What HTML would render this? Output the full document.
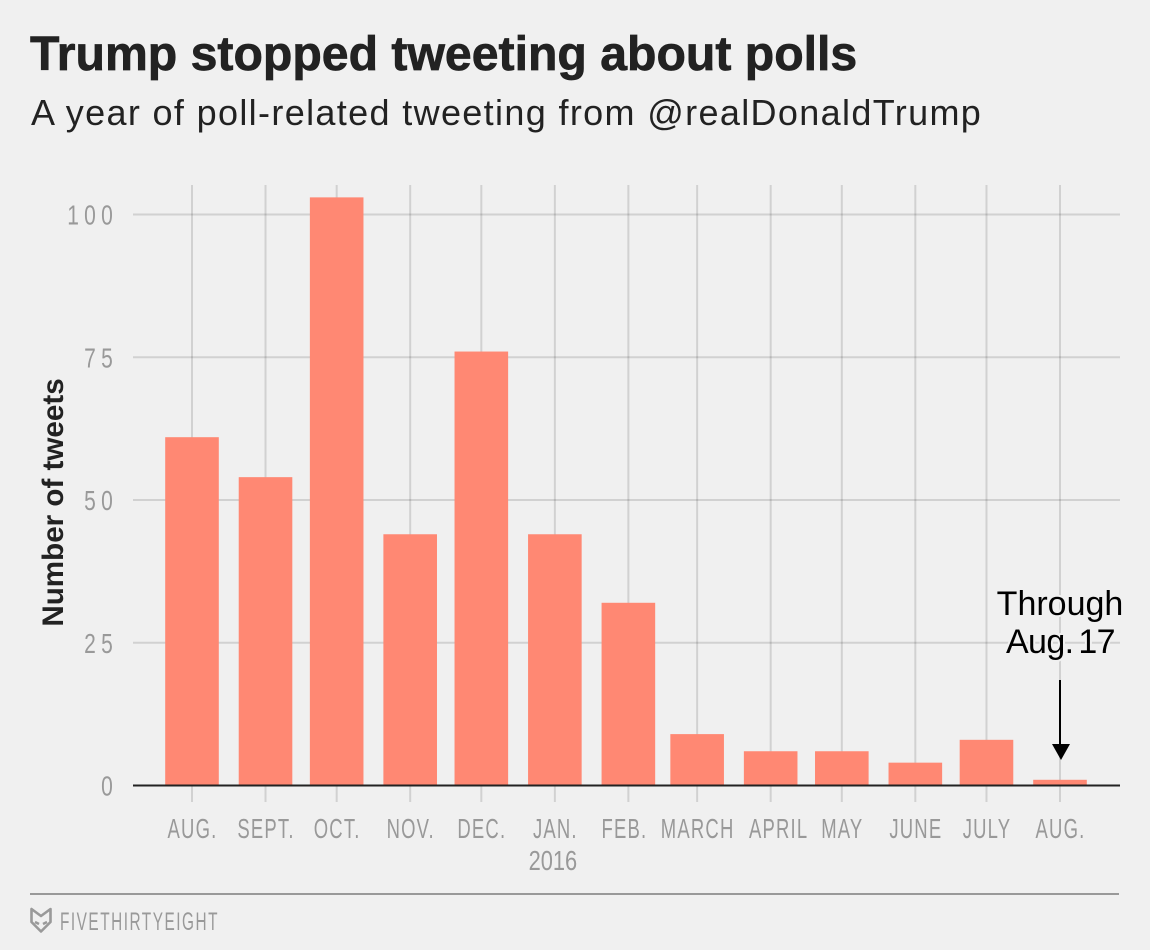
<!DOCTYPE html>
<html lang="en">
<head>
<meta charset="utf-8">
<title>Trump stopped tweeting about polls</title>
<style>
html,body{margin:0;padding:0;background:#f0f0f0;}
svg{display:block;font-family:"Liberation Sans",sans-serif;}
</style>
</head>
<body>
<svg id="chart" width="1150" height="950" viewBox="0 0 1150 950" xmlns="http://www.w3.org/2000/svg">
  <rect x="0" y="0" width="1150" height="950" fill="#f0f0f0"/>
  <text x="30" y="70" font-size="48.2" font-weight="700" fill="#222" stroke="#222" stroke-width="0.7">Trump stopped tweeting about polls</text>
  <text x="31" y="125" font-size="36" letter-spacing="1.35" fill="#222">A year of poll-related tweeting from @realDonaldTrump</text>
  <g id="grid"></g>
  <g id="bars"></g>
  <g id="axes"></g>
  <text transform="translate(63,502.5) rotate(-90)" text-anchor="middle" font-size="29.6" font-weight="700" fill="#222">Number of tweets</text>
  <g>
    <g font-size="34" fill="#000" stroke="#f0f0f0" stroke-width="4" paint-order="stroke" text-anchor="middle">
      <text x="1060" y="615">Through</text>
      <text x="1060.5" y="653" word-spacing="-4" letter-spacing="-0.6">Aug. 17</text>
    </g>
    <line x1="1060" y1="680" x2="1060" y2="746" stroke="#000" stroke-width="2"/>
    <polygon points="1052,744 1070,744 1061,760" fill="#000"/>
  </g>
  <line x1="30" y1="894" x2="1119" y2="894" stroke="#999" stroke-width="2"/>
  <g fill="none" stroke="#999" stroke-width="2.6" stroke-linejoin="round">
    <path d="M31.5,909 L31.5,922 L41,931.5 L50.5,922 L50.5,909 L41,916 Z"/>
    <path d="M35,922 L39,924 M47,922 L43,924"/>
  </g>
  <text transform="translate(60,930) scale(0.615,1)" font-size="25" letter-spacing="2.45" fill="#999">FIVETHIRTYEIGHT</text>
</svg>
<script>
const monthStarts = ["2015-08-01","2015-09-01","2015-10-01","2015-11-01","2015-12-01","2016-01-01","2016-02-01","2016-03-01","2016-04-01","2016-05-01","2016-06-01","2016-07-01","2016-08-01"];
const monthLabels = ["AUG.","SEPT.","OCT.","NOV.","DEC.","JAN.","FEB.","MARCH","APRIL","MAY","JUNE","JULY","AUG."];
const yearLabels = ["","","","","","2016","","","","","","",""];
const tweetCounts = [61,54,103,44,76,44,32,9,6,6,4,8,1];
const yTicks = [0,25,50,75,100];

const NS = "http://www.w3.org/2000/svg";
const PLOT_LEFT = 133, PLOT_RIGHT = 1120, GRID_TOP = 185, TICK_BOTTOM = 802, BAR_WIDTH = 53.6;
const dayOf = function (s) { return Date.parse(s + "T00:00:00Z") / 86400000; };
const d0 = dayOf(monthStarts[0]), d1 = dayOf(monthStarts[monthStarts.length - 1]);
const xScale = function (s) { return 192 + (dayOf(s) - d0) * (1060 - 192) / (d1 - d0); };
const yScale = function (v) { return 785.5 - v * 5.71; };
const labelNudge = function (text) {
  if (text === "FEB.") return -4;
  if (text === "APRIL") return 8;
  return 0.5;
};
const make = function (tag, parent, props) {
  const el = document.createElementNS(NS, tag);
  for (const k in props) el.setAttribute(k, props[k]);
  parent.appendChild(el);
  return el;
};
const grid = document.getElementById("grid");
const barsG = document.getElementById("bars");
const axes = document.getElementById("axes");

yTicks.forEach(function (t) {
  const y = yScale(t);
  if (t !== 0) {
    const g = make("line", grid, {x1: PLOT_LEFT, x2: PLOT_RIGHT, y1: y, y2: y, stroke: "#000", "stroke-opacity": 0.13, "stroke-width": 2});
    
    
  }
  const label = make("text", axes, {transform: "translate(118," + (y + 10) + ") scale(0.75,1)", "text-anchor": "end", "font-size": 28, "letter-spacing": 7, fill: "#999"});
  label.textContent = t;
  
  
});

monthStarts.forEach(function (m, i) {
  const x = xScale(m);
  const v = make("line", grid, {x1: x, x2: x, y1: GRID_TOP, y2: TICK_BOTTOM, stroke: "#000", "stroke-opacity": 0.13, "stroke-width": 2});
  
  

  const bar = make("rect", barsG, {x: x - BAR_WIDTH / 2, y: yScale(tweetCounts[i]), width: BAR_WIDTH, height: yScale(0) - yScale(tweetCounts[i]), fill: "#ff8873"});
  
  

  const label = make("text", axes, {transform: "translate(" + (x + labelNudge(monthLabels[i])) + ",838) scale(0.66,1)", "text-anchor": "middle", "font-size": 28, "letter-spacing": 1.8, fill: "#999"});
  label.textContent = monthLabels[i];
  
  

  if (yearLabels[i]) {
    const yr = make("text", axes, {transform: "translate(" + (x - 2) + ",870) scale(0.78,1)", "text-anchor": "middle", "font-size": 28, fill: "#999"});
    yr.textContent = yearLabels[i];
    
    
  }
});

const baseline = make("line", axes, {x1: PLOT_LEFT, x2: PLOT_RIGHT, y1: yScale(0), y2: yScale(0), stroke: "#222", "stroke-width": 2});


</script>
</body>
</html>
